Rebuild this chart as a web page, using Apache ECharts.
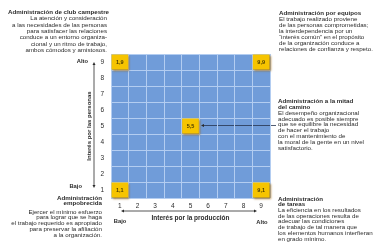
<!DOCTYPE html>
<html>
<head>
<meta charset="utf-8">
<script src="https://cdn.jsdelivr.net/npm/echarts@6/dist/echarts.min.js"></script>
<style>
  html, body { margin: 0; padding: 0; background: #fff; }
  #chart { width: 377px; height: 245px; }
</style>
</head>
<body>
<div id="chart"></div>
<script>
const xLevels = ["1", "2", "3", "4", "5", "6", "7", "8", "9"];
const yLevels = ["1", "2", "3", "4", "5", "6", "7", "8", "9"];
// marked styles: [production, people, label]
const styleCells = [
  ["1", "9", "1,9"],
  ["9", "9", "9,9"],
  ["5", "5", "5,5"],
  ["1", "1", "1,1"],
  ["9", "1", "9,1"]
];

const FONT = '"Liberation Sans", Arial, sans-serif';
const ink = "#2b2b2b";

const chart = echarts.init(document.getElementById("chart"));

function txt(x, y, text, opts) {
  return {
    type: "text",
    x: x,
    y: y,
    silent: true,
    style: Object.assign({
      text: text,
      fontFamily: FONT,
      fontSize: 6.2,
      fill: ink,
      align: "left",
      verticalAlign: "top",
      lineHeight: 6
    }, opts || {})
  };
}

function arrowHead(x, y, dir) {
  const s = 3;
  let pts;
  if (dir === "up") pts = [[x, y], [x - s / 2, y + s], [x + s / 2, y + s]];
  if (dir === "down") pts = [[x, y], [x - s / 2, y - s], [x + s / 2, y - s]];
  if (dir === "left") pts = [[x, y], [x + s, y - s / 2], [x + s, y + s / 2]];
  if (dir === "right") pts = [[x, y], [x - s, y - s / 2], [x - s, y + s / 2]];
  return { type: "polygon", silent: true, shape: { points: pts }, style: { fill: ink } };
}

const option = {
  animation: false,
  grid: {
    left: 111, right: 107, top: 54, bottom: 47,
    show: true, backgroundColor: "#709cd9", borderWidth: 0
  },
  xAxis: {
    type: "category",
    data: xLevels,
    axisLine: { show: false },
    axisTick: { show: false },
    axisLabel: { color: ink, fontSize: 6.5, fontFamily: FONT, margin: 5 },
    splitLine: { show: true, interval: 0, lineStyle: { color: "#b3cdf1", width: 1 } },
    name: "Interés por la producción",
    nameLocation: "middle",
    nameGap: 15,
    nameTextStyle: { color: ink, fontSize: 6.5, fontWeight: "bold", fontFamily: FONT }
  },
  yAxis: {
    type: "category",
    data: yLevels,
    axisLine: { show: false },
    axisTick: { show: false },
    axisLabel: { color: ink, fontSize: 6.5, fontFamily: FONT, margin: 7 },
    splitLine: { show: true, interval: 0, lineStyle: { color: "#b3cdf1", width: 1 } },
    name: "Interés por las personas",
    nameLocation: "middle",
    nameGap: 19,
    nameRotate: 90,
    nameTextStyle: { color: ink, fontSize: 6, fontWeight: "bold", fontFamily: FONT }
  },
  series: [{
    type: "custom",
    data: styleCells,
    renderItem: function (params, api) {
      const c = api.coord([api.value(0), api.value(1)]);
      const s = api.size([1, 1]);
      return {
        type: "group",
        children: [{
          type: "rect",
          shape: { x: c[0] - s[0] / 2 + 0.5, y: c[1] - s[1] / 2 + 0.5, width: s[0] - 1, height: s[1] - 1 },
          style: {
            fill: "#f6c400",
            shadowBlur: 2,
            shadowOffsetX: 1,
            shadowOffsetY: 1,
            shadowColor: "rgba(160,100,0,0.7)"
          }
        }, {
          type: "text",
          x: c[0],
          y: c[1],
          style: {
            text: api.value(2),
            fontFamily: FONT,
            fontSize: 5.5,
            fontWeight: "bold",
            fill: "#4a3c00",
            align: "center",
            verticalAlign: "middle"
          }
        }]
      };
    }
  }],
  graphic: [
    // vertical arrow
    { type: "line", silent: true, shape: { x1: 94, y1: 64, x2: 94, y2: 186 }, style: { stroke: ink, lineWidth: 0.8 } },
    arrowHead(94, 62, "up"),
    arrowHead(94, 188, "down"),
    // horizontal arrow
    { type: "line", silent: true, shape: { x1: 123, y1: 211, x2: 255, y2: 211 }, style: { stroke: ink, lineWidth: 0.8 } },
    arrowHead(121, 211, "left"),
    arrowHead(257, 211, "right"),
    // pointer from 5,5
    { type: "line", silent: true, shape: { x1: 202, y1: 125.5, x2: 276, y2: 125.5 }, style: { stroke: "#26344f", lineWidth: 0.8 } },
    arrowHead(201, 125.5, "left"),

    txt(88, 61, "Alto", { fontWeight: "bold", fontSize: 5.8, align: "right", verticalAlign: "middle" }),
    txt(82, 186, "Bajo", { fontWeight: "bold", fontSize: 5.8, align: "right", verticalAlign: "middle" }),
    txt(120, 221, "Bajo", { fontWeight: "bold", fontSize: 5.8, align: "center", verticalAlign: "middle" }),
    txt(262, 222, "Alto", { fontWeight: "bold", fontSize: 5.8, align: "center", verticalAlign: "middle" }),

    // top left
    txt(109, 9, "Administración de club campestre", { fontWeight: "bold", align: "right" }),
    txt(107, 15.5, "La atención y consideración\na las necesidades de las personas\npara satisfacer las relaciones\nconduce a un entorno organiza-\ncional y un ritmo de trabajo,\nambos cómodos y amistosos.", { align: "right", lineHeight: 6.3 }),

    // top right
    txt(279, 10, "Administración por equipos", { fontWeight: "bold" }),
    txt(279, 16, "El trabajo realizado proviene\nde las personas comprometidas;\nla interdependencia por un\n“interés común” en el propósito\nde la organización conduce a\nrelaciones de confianza y respeto.", { lineHeight: 6 }),

    // middle right
    txt(278, 98, "Administración a la mitad\ndel camino", { fontWeight: "bold", lineHeight: 6 }),
    txt(278, 110, "El desempeño organizacional\nadecuado es posible siempre\nque se equilibre la necesidad\nde hacer el trabajo\ncon el mantenimiento de\nla moral de la gente en un nivel\nsatisfactorio.", { lineHeight: 5.9 }),

    // bottom right
    txt(278, 196, "Administración\nde tareas", { fontWeight: "bold", lineHeight: 5.8 }),
    txt(278, 207.5, "La eficiencia en los resultados\nde las operaciones resulta de\nadecuar las condiciones\nde trabajo de tal manera que\nlos elementos humanos interfieran\nen grado mínimo.", { lineHeight: 5.7 }),

    // bottom left
    txt(102, 195, "Administración\nempobrecida", { fontWeight: "bold", align: "right", lineHeight: 5.8 }),
    txt(102, 209, "Ejercer el mínimo esfuerzo\npara lograr que se haga\nel trabajo requerido es apropiado\npara preservar la afiliación\na la organización.", { align: "right", lineHeight: 5.8 })
  ]
};

chart.setOption(option);
window.addEventListener("resize", chart.resize);
</script>
</body>
</html>
